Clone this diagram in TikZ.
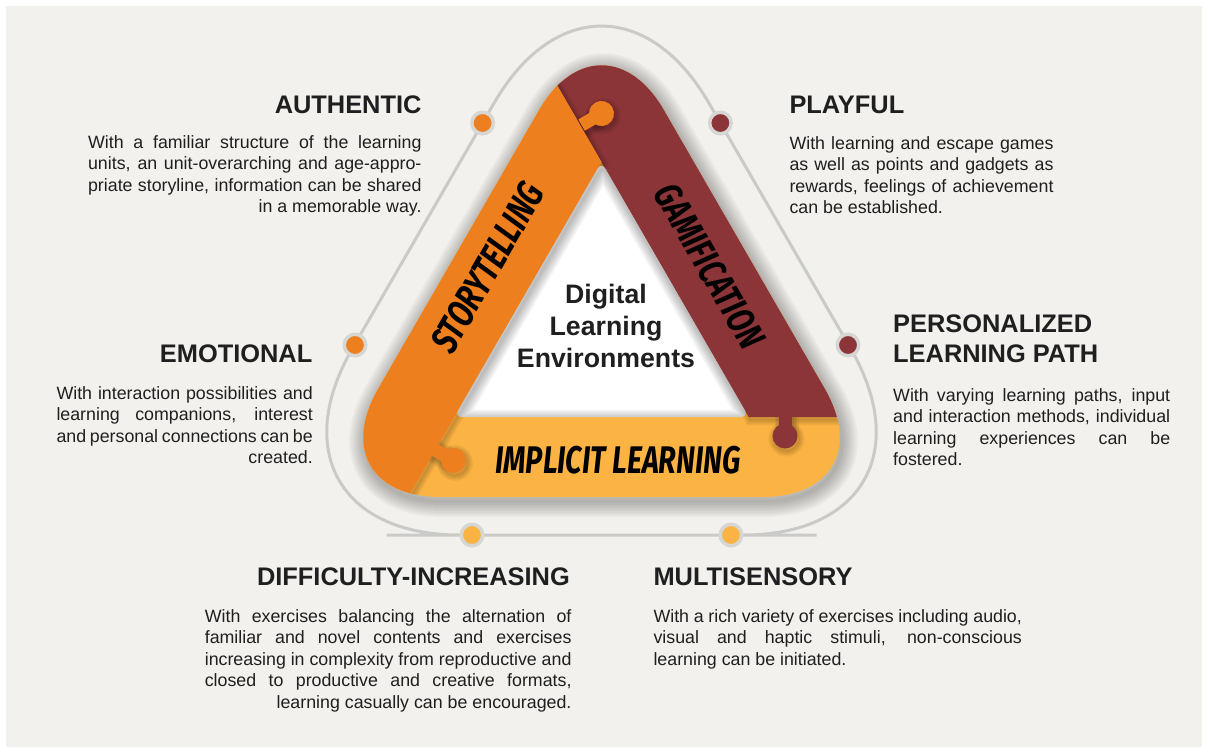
\documentclass[tikz,border=0pt]{standalone}
\usepackage{fontspec}
\setmainfont{Liberation Sans}
\newfontfamily\brushfont{Fira Sans}[FakeStretch=0.75]

\definecolor{bgc}{HTML}{F2F1ED}
\definecolor{orangec}{HTML}{EE7F1E}
\definecolor{redc}{HTML}{8C3538}
\definecolor{yellowc}{HTML}{FBB343}
\definecolor{linec}{HTML}{CACAC8}
\definecolor{ringc}{HTML}{D6D6D4}
\definecolor{textc}{HTML}{1F1F1F}

\newcommand{\bandpath}{(601.5,497) -- (887.3,497) -- (601.5,2) -- (315.7,497) -- cycle}
\newcommand{\innerpath}{(601.5,417) -- (748.7,417) -- (601.5,162) -- (454.3,417) -- cycle}
\newcommand{\redpath}{(501.5,-11.2) -- (1000,-11.2) -- (1000,417) -- (748.7,417) -- cycle}
\newcommand{\orangepath}{(501.5,-11.2) -- (601.5,162) -- (454.3,417) -- (371.7,560) -- (200,560) -- (200,-11.2) -- cycle}
\newcommand{\lastline}[1]{\linebreak\hspace*{\fill}#1{\parfillskip=0pt\par}}

\begin{document}
\begin{tikzpicture}[x=1pt, y=-1pt,
    head/.style = {font=\fontsize{25.4}{30}\selectfont\bfseries, text=textc, inner sep=0pt},
    body/.style = {font=\fontsize{17.8}{21.6}\selectfont, text=textc, inner sep=0pt, align=justify},
    dot/.style = {circle, draw=ringc, line width=3.5pt, minimum size=21.5pt, inner sep=0pt},
    brush/.style = {font=\fontsize{38.5}{38.5}\brushfont\bfseries\itshape, text=black, inner sep=0pt},
    knob/.pic = {\path[pic actions] (19,0) circle[radius=12.5];
                 \path[pic actions] (-4,-6.5) rectangle (10,6.5);}]
    \useasboundingbox (0,0) rectangle (1208,753);
    \fill[white] (0,0) rectangle (1208,753);
    \fill[bgc] (6,6) rectangle (1202,747);

    % ring with the six markers
    \draw[linec, line width=3pt, rounded corners=215] (601.5,535) -- (958.3,535) -- (601.5,-83) -- (244.7,535) -- cycle;
    \node[dot, fill=orangec] (dotAuth) at (482.6,123) {};
    \node[dot, fill=redc] (dotPlay) at (720.4,123) {};
    \node[dot, fill=orangec] (dotEmo) at (355,345) {};
    \node[dot, fill=redc] (dotPers) at (848,345) {};
    \node[dot, fill=yellowc] (dotDiff) at (472,535) {};
    \node[dot, fill=yellowc] (dotMult) at (731,535) {};

    % soft shadow under the band
    \begin{scope}[shift={(2,4)}]
        \foreach \w in {4,8,...,32}
            \draw[black, opacity=0.035, line width=\w pt, rounded corners=124.7] \bandpath;
    \end{scope}

    % the three puzzle pieces
    \begin{scope}
        \clip[rounded corners=124.7] \bandpath;
        \fill[yellowc] (200,-20) rectangle (1000,560);
        \begin{scope}[shift={(1.5,2.5)}]
            \foreach \w in {2,5,8,11} {
                \draw[black, opacity=0.05, line width=\w pt] \redpath;
                \pic[rotate=-90, draw=black, opacity=0.05, line width=\w pt] (knobR) at (785,417) {knob};
            }
        \end{scope}
        \fill[redc] \redpath;
        \pic[rotate=-90, fill=redc] (knobR) at (785,417) {knob};
        \begin{scope}[shift={(1.5,2.5)}]
            \foreach \w in {2,5,8,11} {
                \draw[black, opacity=0.05, line width=\w pt] \orangepath;
                \pic[rotate=30, draw=black, opacity=0.05, line width=\w pt] (knobT) at (585,123) {knob};
                \pic[rotate=-30, draw=black, opacity=0.05, line width=\w pt] (knobL) at (437,451) {knob};
            }
        \end{scope}
        \fill[orangec] \orangepath;
        \pic[rotate=30, fill=orangec] (knobT) at (585,123) {knob};
        \pic[rotate=-30, fill=orangec] (knobL) at (437,451) {knob};
    \end{scope}

    % white centre with inner shadow
    \fill[white, rounded corners=8] \innerpath;
    \begin{scope}
        \clip[rounded corners=8] \innerpath;
        \begin{scope}[shift={(1.5,3)}]
            \foreach \w in {3,6,...,21}
                \draw[black, opacity=0.04, line width=\w pt, rounded corners=8] \innerpath;
        \end{scope}
    \end{scope}

    \node[brush, rotate=60] (story) at (487.5,267.5) {STORYTELLING};
    \node[brush, rotate=-60] (gami) at (710,266) {GAMIFICATION};
    \node[brush] (impl) at (618,460) {IMPLICIT LEARNING};
    \node[font=\fontsize{26.7}{31.7}\selectfont\bfseries, text=textc, align=center, inner sep=0pt] (dle) at (606,325.8) {Digital\\Learning\\Environments};

    \node[head, anchor=base east] (authH) at (421.7,113) {AUTHENTIC};
    \node[body, text width=333.4pt, anchor=north east] (authT) at (421.7,135) {With a familiar structure of the learning\linebreak units, an unit-overarching and age-appro-\linebreak priate storyline, information can be shared\lastline{in a memorable way.}};

    \node[head, anchor=base west] (playH) at (789.3,113) {PLAYFUL};
    \node[body, text width=264pt, anchor=north west] (playT) at (789.3,136) {With learning and escape games\linebreak as well as points and gadgets as\linebreak rewards, feelings of achievement\linebreak can be established.};

    \node[head, anchor=base east] (emoH) at (312.5,362) {EMOTIONAL};
    \node[body, text width=256.3pt, anchor=north east] (emoT) at (313,386) {With interaction possibilities and\linebreak learning companions, interest\linebreak and personal connections can be\lastline{created.}};

    \node[head, align=left, anchor=north west] (persH) at (893,314.5) {PERSONALIZED\\LEARNING PATH};
    \node[body, text width=277pt, anchor=north west] (persT) at (893,388) {With varying learning paths, input\linebreak and interaction methods, individual\linebreak learning experiences can be\linebreak fostered.};

    \node[head, anchor=base east] (diffH) at (570,585) {DIFFICULTY-INCREASING};
    \node[body, text width=366.7pt, anchor=north east] (diffT) at (571.7,609) {With exercises balancing the alternation of\linebreak familiar and novel contents and exercises\linebreak increasing in complexity from reproductive and\linebreak closed to productive and creative formats,\lastline{learning casually can be encouraged.}};

    \node[head, anchor=base west] (multH) at (653.3,585) {MULTISENSORY};
    \node[body, text width=368.4pt, anchor=north west] (multT) at (653.3,609) {With a rich variety of exercises including audio,\linebreak visual and haptic stimuli, non-conscious\linebreak learning can be initiated.};
\end{tikzpicture}
\end{document}
